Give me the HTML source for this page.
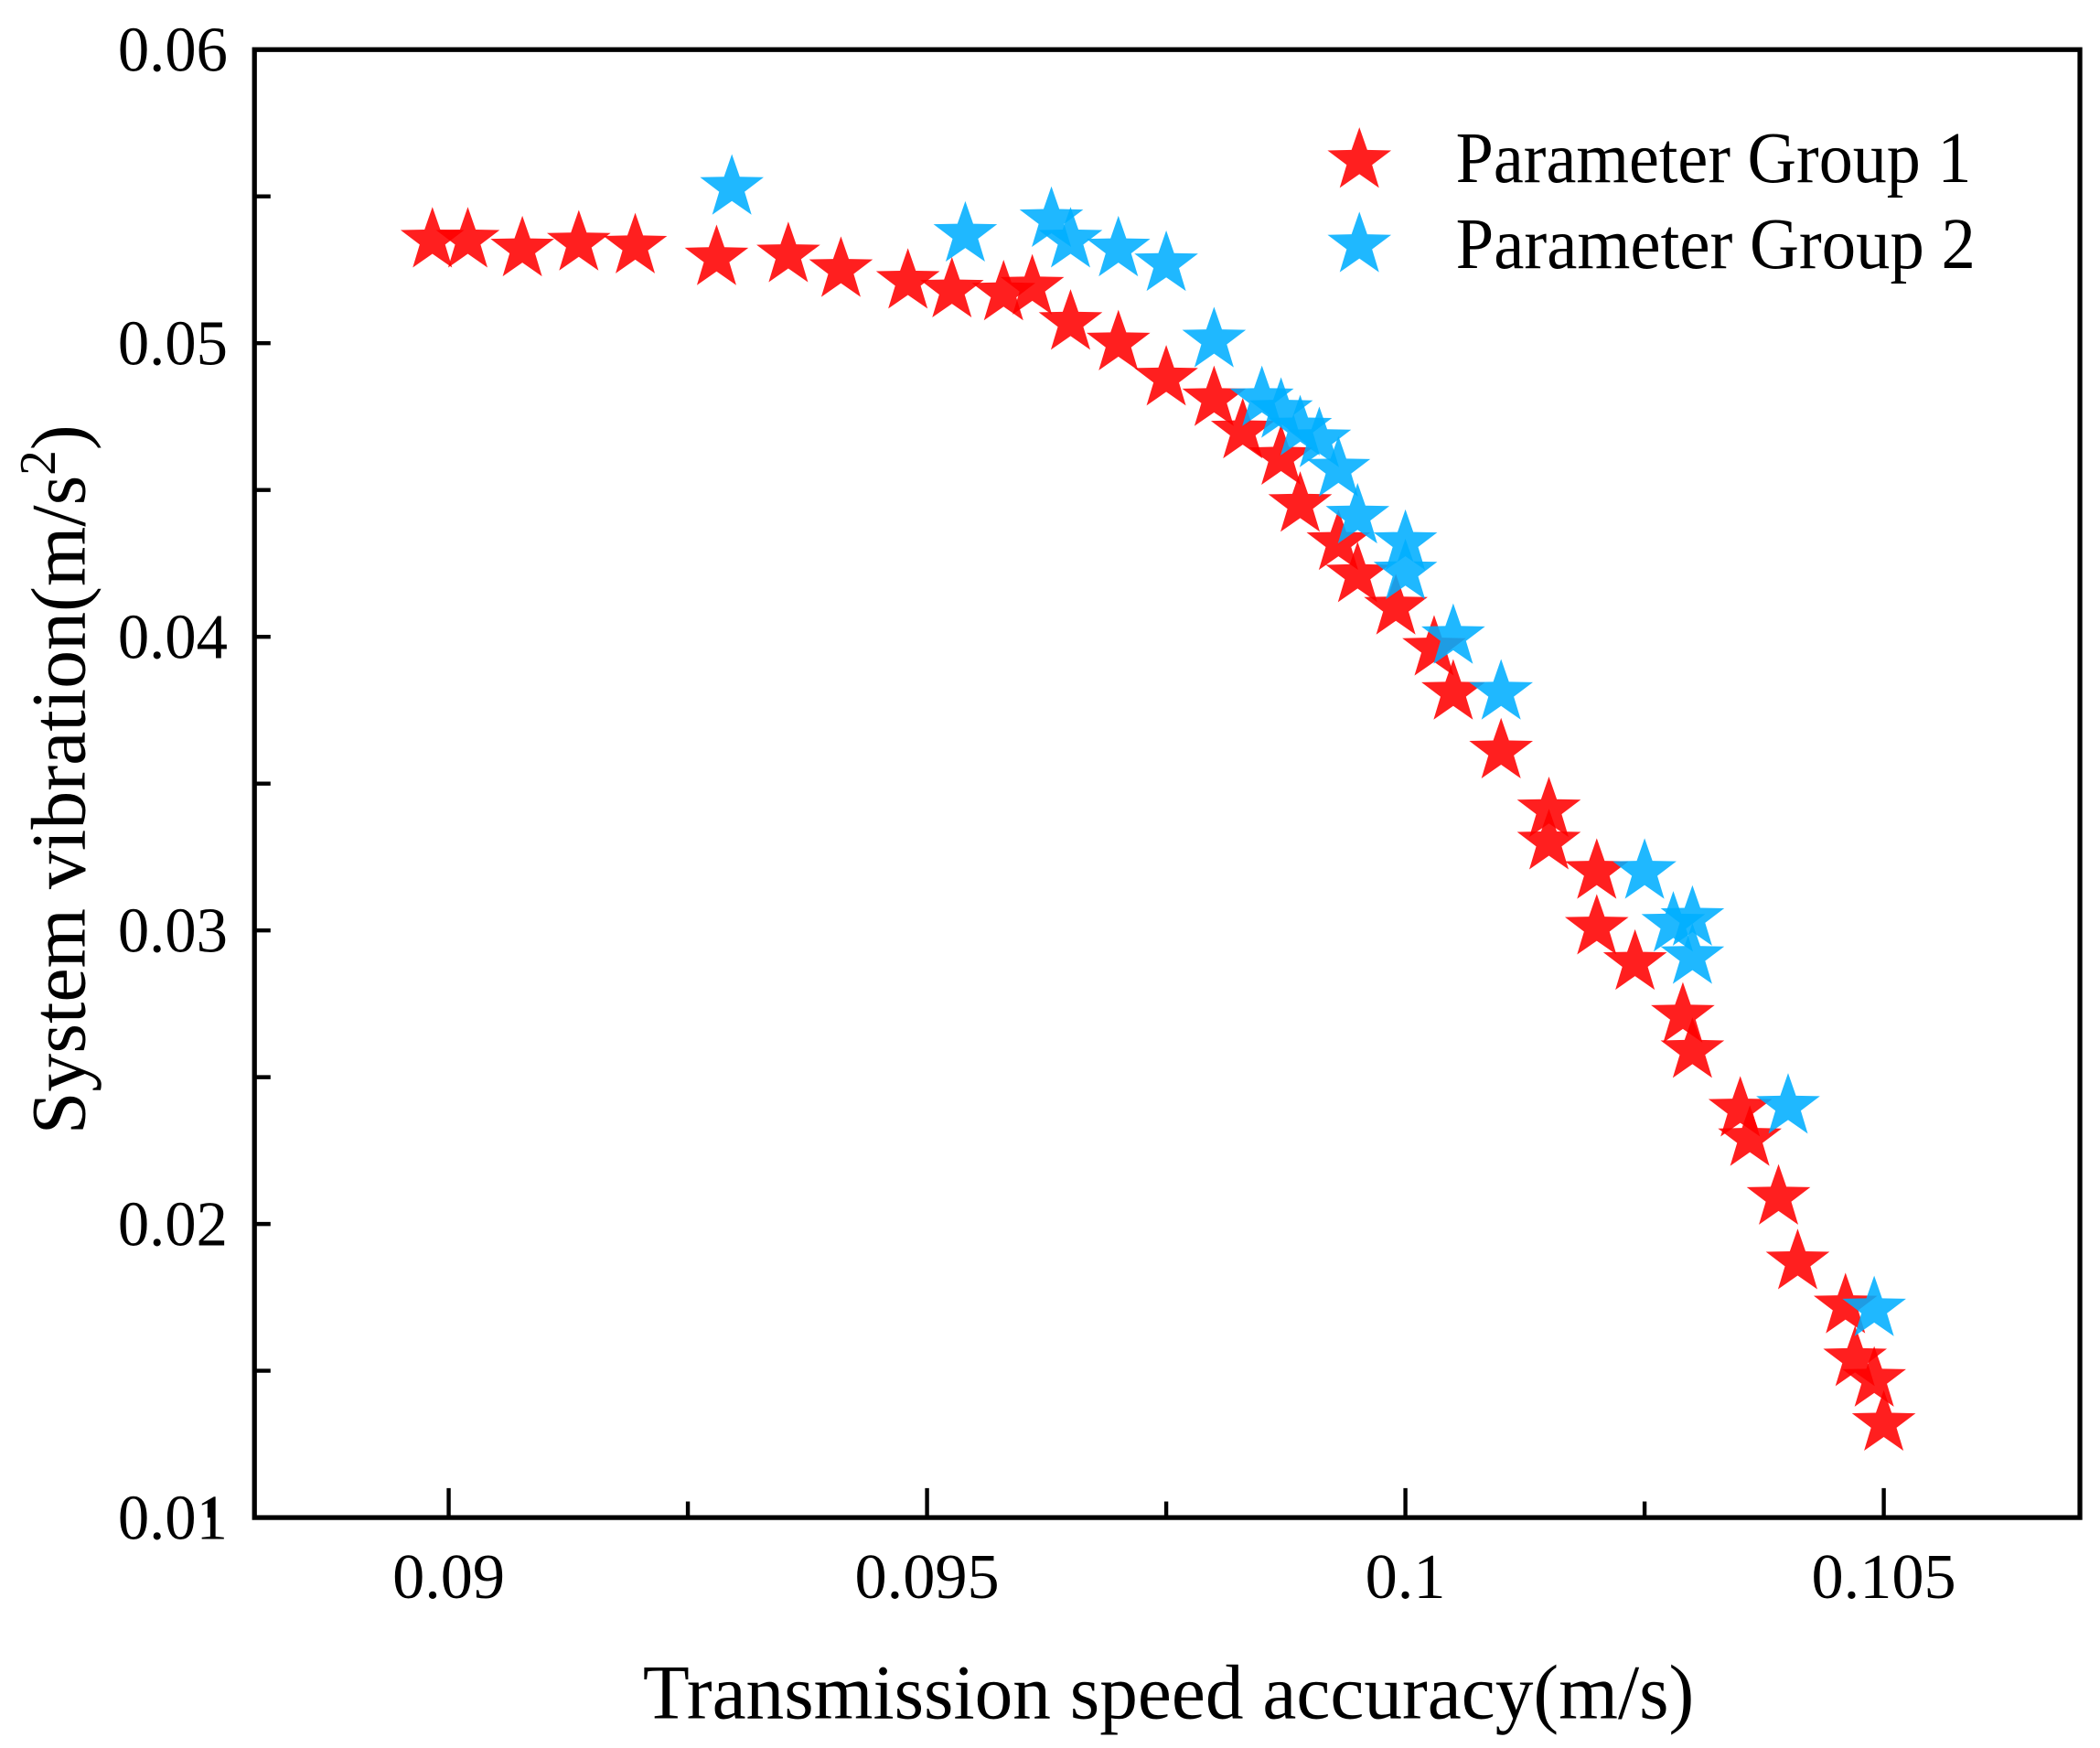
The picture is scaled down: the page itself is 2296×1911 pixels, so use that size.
<!DOCTYPE html>
<html><head><meta charset="utf-8"><style>
html,body{margin:0;padding:0;background:#fff}
svg{display:block}
text{font-family:"Liberation Serif",serif;fill:#000}
</style></head><body>
<svg id="chart" width="2296" height="1911" viewBox="0 0 1568 1305" xmlns="http://www.w3.org/2000/svg">
<rect x="0" y="0" width="1568" height="1305" fill="#fff"/>
<g id="marks"></g>
<g id="axes"></g>
<g id="legend">
  <path id="leg1"/>
  <text x="1087" y="136" font-size="54" textLength="385" lengthAdjust="spacingAndGlyphs">Parameter Group 1</text>
  <path id="leg2"/>
  <text x="1087" y="200" font-size="54" textLength="388" lengthAdjust="spacingAndGlyphs">Parameter Group 2</text>
</g>
<text x="480" y="1283" font-size="58" textLength="785" lengthAdjust="spacingAndGlyphs">Transmission speed accuracy(m/s)</text>
<text transform="translate(63,847) rotate(-90)" font-size="58" textLength="530" lengthAdjust="spacingAndGlyphs">System vibration(m/s<tspan font-size="38" dy="-22">2</tspan><tspan dy="22">)</tspan></text>
</svg>
<script>
const g1x = [0.08983,0.0902,0.09077,0.09136,0.09195,0.0928,0.09355,0.0941,0.0948,0.09526,0.0958,0.0961,0.0965,0.0970,0.0975,0.0980,0.0983,0.0987,0.0989,0.0993,0.0995,0.0999,0.1003,0.1005,0.1010,0.1015,0.1015,0.1020,0.1020,0.1024,0.1029,0.1030,0.1035,0.1036,0.1039,0.1041,0.1046,0.1047,0.1049,0.1050];
const g1y = [0.0535,0.0535,0.0532,0.0534,0.0533,0.0529,0.0530,0.0525,0.0521,0.0518,0.0517,0.0519,0.0507,0.0500,0.0488,0.0481,0.0470,0.0461,0.0445,0.0432,0.0421,0.0410,0.0396,0.0381,0.0361,0.0341,0.0330,0.0320,0.0301,0.0289,0.0271,0.0259,0.0239,0.0229,0.0209,0.0187,0.0172,0.0154,0.0147,0.0132];
const g2x = [0.09296,0.0954,0.0963,0.0965,0.0970,0.0975,0.0980,0.0985,0.0987,0.0989,0.0991,0.0993,0.0995,0.1000,0.1000,0.1005,0.1010,0.1025,0.1028,0.1030,0.1030,0.1040,0.1049];
const g2y = [0.0553,0.0537,0.0542,0.0535,0.0532,0.0527,0.0501,0.0481,0.0477,0.0471,0.0467,0.0457,0.0441,0.0432,0.0422,0.0400,0.0381,0.0320,0.0302,0.0304,0.0291,0.0240,0.0171];
const xTicks = [0.09,0.095,0.1,0.105];
const xTickLabels = ["0.09","0.095","0.1","0.105"];
const yTicks = [0.01,0.02,0.03,0.04,0.05,0.06];
const yTickLabels = ["0.01","0.02","0.03","0.04","0.05","0.06"];

const L=190,R=1553,T=37,B=1133;
const X0=0.08797,X1=0.10705,Y0=0.01,Y1=0.06;
const sx=v=>L+(v-X0)/(X1-X0)*(R-L);
const sy=v=>B-(v-Y0)/(Y1-Y0)*(B-T);
const NS="http://www.w3.org/2000/svg";
function star(cx,cy,r){
  let d="";
  for(let i=0;i<10;i++){
    const rr=i%2?r*0.4:r;
    const a=-Math.PI/2+i*Math.PI/5;
    d+=(i?"L":"M")+(cx+rr*Math.cos(a)).toFixed(2)+","+(cy+rr*Math.sin(a)).toFixed(2);
  }
  return d+"Z";
}
const marks=document.getElementById("marks");
function series(xs,ys,color,name){
  const g=document.createElementNS(NS,"g");
  
  
  for(let i=0;i<xs.length;i++){
    const p=document.createElementNS(NS,"path");
    p.setAttribute("d",star(sx(xs[i]),sy(ys[i]),25));
    p.setAttribute("fill",color);
    p.setAttribute("fill-opacity","0.88");
    
    
    g.appendChild(p);
  }
  marks.appendChild(g);
}
series(g1x,g1y,"#ff0000","series-group-1");
series(g2x,g2y,"#00aeff","series-group-2");

const ax=document.getElementById("axes");
function line(x1,y1,x2,y2,w,name){
  const l=document.createElementNS(NS,"line");
  l.setAttribute("x1",x1);l.setAttribute("y1",y1);l.setAttribute("x2",x2);l.setAttribute("y2",y2);
  l.setAttribute("stroke","#000");l.setAttribute("stroke-width",w);
  
  
  ax.appendChild(l);
}
const frame=document.createElementNS(NS,"rect");
frame.setAttribute("x",L);frame.setAttribute("y",T);frame.setAttribute("width",R-L);frame.setAttribute("height",B-T);
frame.setAttribute("fill","none");frame.setAttribute("stroke","#000");frame.setAttribute("stroke-width","3.6");


ax.appendChild(frame);
for(let v=0.0875;v<=0.1065;v+=0.0025){
  const major=Math.abs(v/0.005-Math.round(v/0.005))<1e-6;
  line(sx(v),B,sx(v),B-(major?22:12),3,"x-tick");
}
for(let v=0.015;v<0.06;v+=0.01){line(L,sy(v),L+12,sy(v),3,"y-minor-tick");}
yTicks.forEach((v,i)=>{
  line(L,sy(v),L+12,sy(v),3,"y-tick");
  const t=document.createElementNS(NS,"text");
  t.setAttribute("x",170);t.setAttribute("y",sy(v)+16);t.setAttribute("font-size","48");
  t.setAttribute("text-anchor","end");
  t.setAttribute("textLength","82");t.setAttribute("lengthAdjust","spacingAndGlyphs");
  
  
  t.textContent=yTickLabels[i];ax.appendChild(t);
});
xTicks.forEach((v,i)=>{
  const t=document.createElementNS(NS,"text");
  t.setAttribute("x",sx(v));t.setAttribute("y",1193);t.setAttribute("font-size","48");
  t.setAttribute("text-anchor","middle");
  
  
  t.textContent=xTickLabels[i];ax.appendChild(t);
});
const l1=document.getElementById("leg1");l1.setAttribute("d",star(1015,120,25));l1.setAttribute("fill","#ff0000");l1.setAttribute("fill-opacity","0.88");
const l2=document.getElementById("leg2");l2.setAttribute("d",star(1015,183,25));l2.setAttribute("fill","#00aeff");l2.setAttribute("fill-opacity","0.88");
</script>
</body></html>
